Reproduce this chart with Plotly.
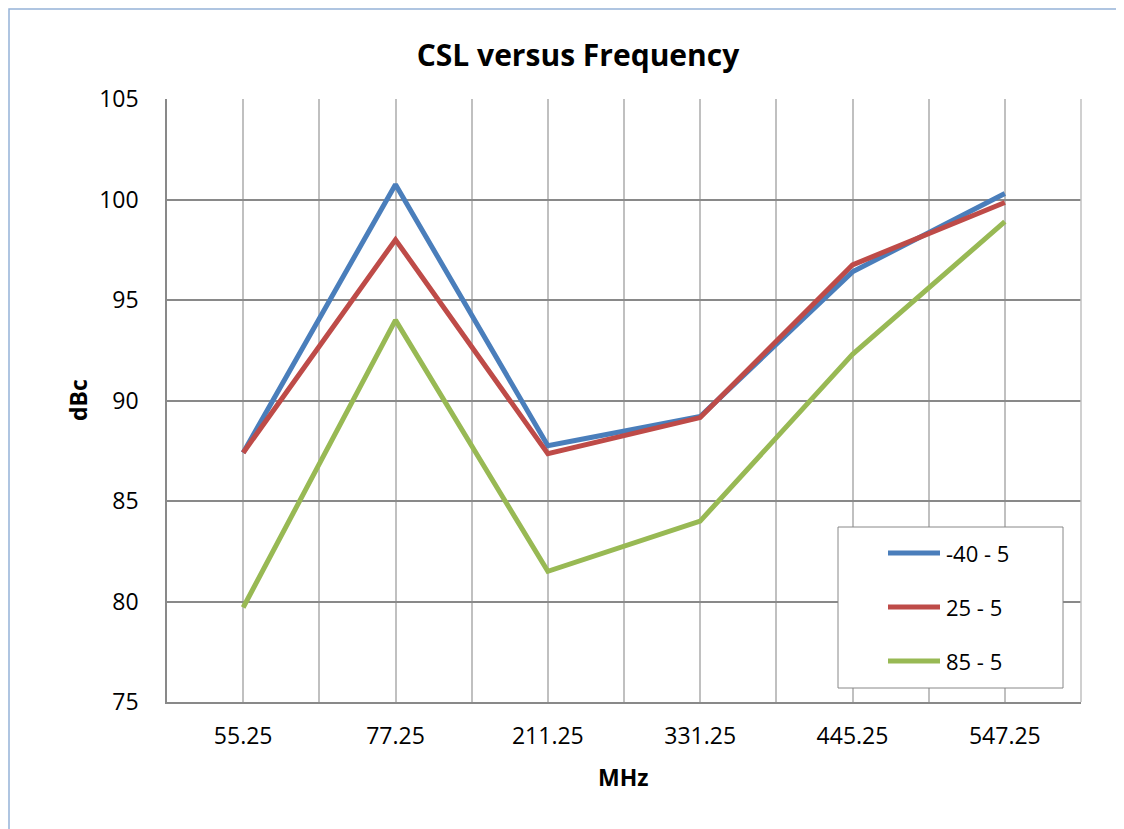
import plotly.graph_objects as go

categories = ["55.25", "77.25", "211.25", "331.25", "445.25", "547.25"]
series_names = ["-40 - 5", "25 - 5", "85 - 5"]
vals_m40 = [87.4, 100.75, 87.75, 89.2, 96.4, 100.3]
vals_25 = [87.4, 98.0, 87.35, 89.15, 96.75, 99.85]
vals_85 = [79.7, 94.0, 81.5, 84.0, 92.3, 98.9]
colors = ["#4A7EBB", "#BE4B48", "#98B954"]

FONT = "'Open Sans', sans-serif"
xi = list(range(len(categories)))

# page has an 8px body margin; work in page pixel coords and convert
OFF = 8
W, H = 1124 - OFF, 829 - OFF
PL, PR, PT, PB = 167, 1081, 99, 702          # plot area in page pixels
pw, ph = PR - PL, PB - PT


def px(x):
    return (x - PL) / pw


def py(y):
    return (PB - y) / ph


fig = go.Figure()
for name, vals, c in zip(series_names, [vals_m40, vals_25, vals_85], colors):
    fig.add_trace(go.Scatter(x=xi, y=vals, mode="lines", name=name, showlegend=False,
                             line=dict(color=c, width=5)))

fig.update_layout(
    width=W, height=H,
    margin=dict(l=PL - OFF, r=W - (PR - OFF), t=PT - OFF, b=H - (PB - OFF)),
    paper_bgcolor="white", plot_bgcolor="white",
    font=dict(family=FONT, size=23, color="black"),
    title=dict(text="<b>CSL versus Frequency</b>", x=(578 - OFF) / W, xanchor="center",
               y=1 - (55 - OFF) / H, yanchor="middle", font=dict(size=30, family=FONT)),
    showlegend=False,
    xaxis=dict(range=[-0.5, len(categories) - 0.5], tickvals=xi, ticktext=categories,
               showgrid=True, gridcolor="#C0C0C0", gridwidth=1.5,
               minor=dict(dtick=0.5, tick0=-0.5, showgrid=True, gridcolor="#C0C0C0", gridwidth=1.5),
               showline=True, linecolor="#898989", linewidth=1.5,
               ticks="", ticklabelstandoff=13, zeroline=False),
    yaxis=dict(range=[75, 105], dtick=5, showgrid=True, gridcolor="#898989", gridwidth=1.5,
               showline=True, linecolor="#898989", linewidth=1.5,
               ticks="", ticklabelstandoff=22, zeroline=False),
)

# axis titles
fig.add_annotation(text="<b>MHz</b>", xref="paper", yref="paper", x=px(623), y=py(777),
                   xanchor="center", yanchor="middle", showarrow=False,
                   font=dict(size=23, family=FONT))
fig.add_annotation(text="<b>dBc</b>", xref="paper", yref="paper", x=px(78), y=py(400),
                   xanchor="center", yanchor="middle", showarrow=False, textangle=-90,
                   font=dict(size=23, family=FONT))

# right border of plot area
fig.add_shape(type="line", xref="paper", yref="paper", x0=1, x1=1, y0=0, y1=1,
              line=dict(color="#C0C0C0", width=1.5))
# chart outer border
fig.add_shape(type="rect", xref="paper", yref="paper",
              x0=px(9), x1=px(1140), y0=py(845), y1=py(9),
              line=dict(color="#95B3D7", width=1.5), layer="below")

# legend box (Excel style)
fig.add_shape(type="rect", xref="paper", yref="paper",
              x0=px(838), x1=px(1063), y0=py(688), y1=py(527),
              line=dict(color="#888888", width=1), fillcolor="white", layer="above")
leg_y = [553, 607, 661]
for name, c, ly in zip(series_names, colors, leg_y):
    fig.add_shape(type="line", xref="paper", yref="paper",
                  x0=px(888), x1=px(940), y0=py(ly), y1=py(ly),
                  line=dict(color=c, width=5), layer="above")
    fig.add_annotation(text=name, xref="paper", yref="paper", x=px(944), y=py(ly),
                       xanchor="left", yanchor="middle", showarrow=False,
                       font=dict(size=22, family=FONT))

fig.write_html("out.html")
